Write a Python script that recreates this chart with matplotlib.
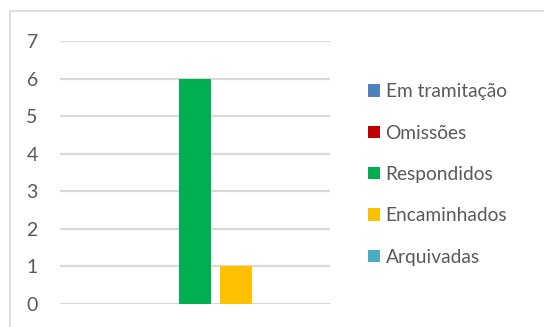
import matplotlib
matplotlib.use("Agg")
import matplotlib.pyplot as plt
from matplotlib.patches import Rectangle

categories = [""]
series_names = ["Em tramitação", "Omissões", "Respondidos", "Encaminhados", "Arquivadas"]
series_values = [0, 0, 6, 1, 0]
colors = ["#4F81BD", "#C00000", "#00B050", "#FFC000", "#4BACC6"]
y_ticks = [0, 1, 2, 3, 4, 5, 6, 7]

plt.rcParams['font.family'] = ['Lato', 'DejaVu Sans']
W, H = 544, 327
fig = plt.figure(figsize=(W/100, H/100), dpi=100)

# chart border (cropped on right/bottom)
fig.patches.append(Rectangle((10/W, -0.05), 2.0, 1 - 11/H + 0.05, transform=fig.transFigure,
                             fill=False, edgecolor="#D9D9D9", linewidth=1.2))

ax = fig.add_axes([60/W, 1 - 304/H, 270/W, (304-41)/H])
step = 0.152
width = 0.1185
for i, (name, v, c) in enumerate(zip(series_names, series_values, colors)):
    ax.bar(0 + (i - 2) * step, v, width=width, color=c, label=name, zorder=3)

ax.set_xlim(-0.5, 0.5)
ax.set_ylim(0, 7)
ax.set_yticks(y_ticks)
ax.set_xticks([])
ax.grid(axis='y', color="#D9D9D9", linewidth=1.6, zorder=0)
for s in ax.spines.values():
    s.set_visible(False)
ax.tick_params(axis='y', length=0, pad=16, labelsize=14, labelcolor="#595959")

handles, labels = ax.get_legend_handles_labels()
leg = fig.legend(handles, labels, loc='upper left', bbox_to_anchor=(351/W, 1 - 66/H),
                 frameon=False, fontsize=13.8, labelcolor="#595959",
                 handlelength=0.6, handleheight=0.6, handletextpad=0.3, labelspacing=1.27)

fig.savefig("out.png", dpi=100)
